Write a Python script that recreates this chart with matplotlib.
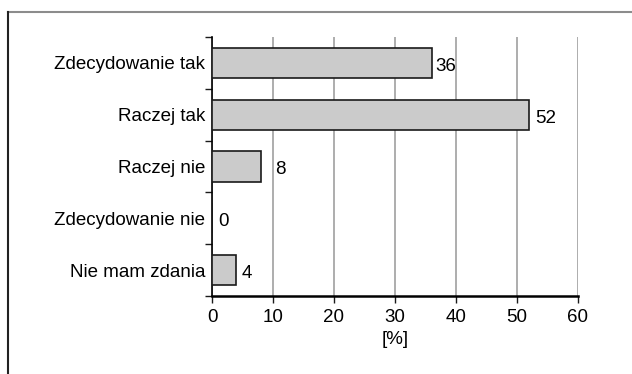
import matplotlib
matplotlib.use("Agg")
import matplotlib.pyplot as plt
from matplotlib.lines import Line2D

categories = ["Zdecydowanie tak", "Raczej tak", "Raczej nie", "Zdecydowanie nie", "Nie mam zdania"]
values = [36, 52, 8, 0, 4]
xticks = [0, 10, 20, 30, 40, 50, 60]

# horizontal gap (in points) between each bar end and its value label
label_gap = [2.5, 4, 10.5, 4.5, 4]

plt.rcParams["font.family"] = ["Liberation Sans", "DejaVu Sans"]
FS = 13.5

fig = plt.figure(figsize=(6.32, 3.74), dpi=100)
ax = fig.add_axes([212 / 632, 1 - 296 / 374, (578 - 212) / 632, (296 - 37) / 374])

y = list(range(len(categories)))
ax.barh(y, values, height=0.58, color="#cbcbcb", edgecolor="#1a1a1a", linewidth=1.2, zorder=3)
for yi, v, g in zip(y, values, label_gap):
    ax.annotate(f"{v}", xy=(v, yi), xytext=(g, -2.5), textcoords="offset points",
                va="center", ha="left", fontsize=FS)

ax.set_xlim(0, 60)
ax.set_ylim(len(categories) - 0.5, -0.5)
ax.set_xticks(xticks)
ax.set_xticklabels([str(t) for t in xticks], fontsize=FS)
ax.set_yticks(y)
ax.set_yticklabels(categories, fontsize=FS)
ax.tick_params(axis="y", length=0, pad=5)
ax.set_yticks([i - 0.5 for i in range(len(categories) + 1)], minor=True)
ax.tick_params(axis="y", which="minor", length=5, width=1.0, color="#1a1a1a")
ax.tick_params(axis="x", length=5, width=1.0, color="#1a1a1a", pad=4)
ax.grid(axis="x", color="#a0a0a0", linewidth=1.2, zorder=0)
ax.set_axisbelow(True)
for s in ("top", "right"):
    ax.spines[s].set_visible(False)
ax.spines["left"].set_linewidth(1.2)
ax.spines["bottom"].set_linewidth(1.8)
ax.set_xlabel("[%]", fontsize=FS, labelpad=4)

# outer frame: top and left edges
fig.add_artist(Line2D([8 / 632, 1], [1 - 12 / 374, 1 - 12 / 374], transform=fig.transFigure, color="#8c8c8c", linewidth=1.5))
fig.add_artist(Line2D([8 / 632, 8 / 632], [0, 1 - 12 / 374], transform=fig.transFigure, color="#222222", linewidth=1.5))

fig.savefig("out.png", dpi=100)
